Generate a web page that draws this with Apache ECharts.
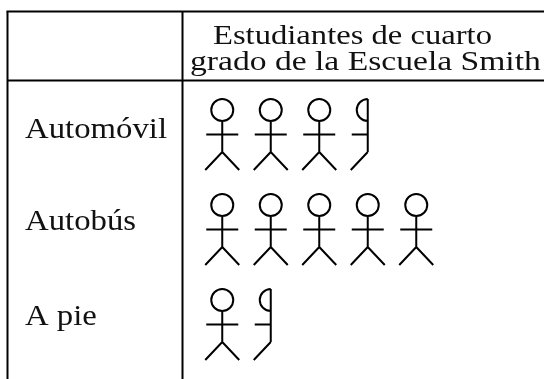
<!DOCTYPE html>
<html>
<head>
<meta charset="utf-8">
<style>
  html, body { margin: 0; padding: 0; background: #fff; }
  #chart { width: 544px; height: 379px; }
</style>
<script src="https://cdn.jsdelivr.net/npm/echarts@6/dist/echarts.min.js"></script>
</head>
<body>
<div id="chart"></div>
<script>
var headerLines = ["Estudiantes de cuarto", "grado de la Escuela Smith"];
var categories = ["Automóvil", "Autobús", "A pie"];
var figureCounts = [3.5, 5, 1.5];

var ink = "#000";
var textColor = "#111";

// stick figures, drawn around their own centre
var person = "M11,-24.5A11,11,0,1,1,-11,-24.5A11,11,0,1,1,11,-24.5M0,-13.5L0,17.5M-16,0L16,0M-17,35.5L0,17.5L17,35.5";
var halfPerson = "M0,-35.5A11,11,0,0,0,0,-13.5M0,-35.5L0,17.5M-16,0L0,0M-17,35.5L0,17.5";

function renderRow(params, api) {
  var count = api.value(0);
  var row = api.value(1);
  var children = [];
  for (var i = 0; i < Math.ceil(count); i++) {
    var pt = api.coord([i + 0.5, row]);
    children.push({
      type: "path",
      x: pt[0],
      y: pt[1],
      shape: { pathData: count - i < 1 ? halfPerson : person },
      style: { fill: null, stroke: ink, lineWidth: 2 }
    });
  }
  return { type: "group", children: children };
}

function tableLine(x1, y1, x2, y2) {
  return {
    type: "line",
    silent: true,
    shape: { x1: x1, y1: y1, x2: x2, y2: y2 },
    style: { stroke: ink, lineWidth: 2 }
  };
}

function tableText(text, x, y, size, stretch) {
  return {
    type: "text",
    silent: true,
    x: x,
    y: y,
    scaleX: stretch,
    style: { text: text, font: size + 'px "Liberation Serif"', fill: textColor, verticalAlign: "bottom" }
  };
}

var chart = echarts.init(document.getElementById("chart"));
chart.setOption({
  animation: false,
  backgroundColor: "#fff",
  grid: { left: 198, right: 6.5, top: 87, bottom: 7 },
  xAxis: { type: "value", min: 0, max: 7, show: false },
  yAxis: { type: "category", inverse: true, data: categories, show: false },
  graphic: [
    tableLine(6.5, 11.5, 544, 11.5),
    tableLine(7.5, 80.5, 544, 80.5),
    tableLine(7.5, 11.5, 7.5, 379),
    tableLine(182.5, 11.5, 182.5, 379),
    tableText(headerLines[0], 213, 51, 28, 1.165),
    tableText(headerLines[1], 190, 77, 28, 1.2),
    tableText(categories[0], 25, 145, 29, 1.13),
    tableText(categories[1], 25, 237, 29, 1.13),
    tableText(categories[2], 25, 332, 29, 1.13)
  ],
  series: [
    {
      type: "custom",
      silent: true,
      clip: false,
      encode: { x: 0, y: 1 },
      data: figureCounts.map(function (n, i) { return [n, i]; }),
      renderItem: renderRow
    }
  ]
});
</script>
</body>
</html>
